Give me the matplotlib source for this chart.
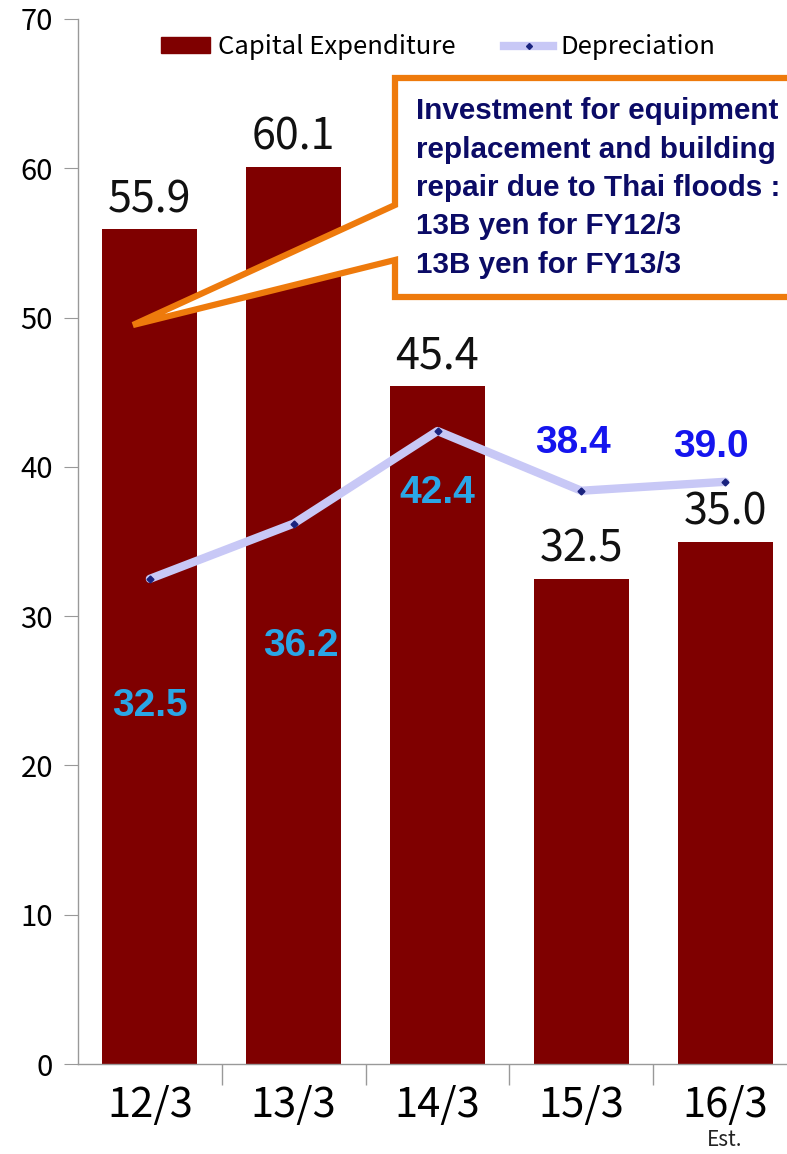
import matplotlib.pyplot as plt
from matplotlib.patches import Polygon
from matplotlib.lines import Line2D
from matplotlib.patches import Patch

plt.rcParams['font.family'] = ['Noto Sans CJK JP', 'DejaVu Sans']

# data
years = ['12/3', '13/3', '14/3', '15/3', '16/3']
capex = [55.9, 60.1, 45.4, 32.5, 35.0]
depreciation = [32.5, 36.2, 42.4, 38.4, 39.0]
dep_label_colors = ['#2aa6e6', '#2aa6e6', '#2aa6e6', '#1515ee', '#1515ee']
# label offsets (data units) for the depreciation values
dep_label_dy = [-8.5, -8.17, -4.17, 3.23, 2.36]
dep_label_dx = [0, 0.05, 0, -0.06, -0.1]

W, H = 787, 1154
fig = plt.figure(figsize=(W / 100, H / 100), dpi=100)

# axes placed in pixel terms; right edge runs past the figure (cropped chart)
left, right, top, bottom = 78, 797, 19, 1064
ax = fig.add_axes([left / W, 1 - bottom / H, (right - left) / W, (bottom - top) / H])

x = list(range(len(years)))
bar_color = '#7f0000'
ax.bar(x, capex, width=0.66, color=bar_color, zorder=2)
ax.plot(x, depreciation, color='#c8c8f6', lw=6, solid_capstyle='round', zorder=3)
ax.plot(x, depreciation, ls='none', marker='D', ms=3.5, color='#1a237e', zorder=4)

for xi, v in zip(x, capex):
    ax.text(xi, v + 0.5, '%.1f' % v, ha='center', va='bottom', fontsize=31, color='#111111')

for xi, v, c, dy, dx in zip(x, depreciation, dep_label_colors, dep_label_dy, dep_label_dx):
    ax.text(xi + dx, v + dy, '%.1f' % v, ha='center', va='center', fontsize=28,
            fontweight='bold', color=c, family=['Liberation Sans', 'DejaVu Sans'])

ax.set_xlim(-0.5, len(years) - 0.5)
ax.set_ylim(0, 70)
ax.set_yticks(range(0, 71, 10))
ax.set_xticks([i + 0.5 for i in range(len(years) - 1)], minor=False)
ax.set_xticklabels([])
ax.tick_params(axis='x', which='major', length=15, color='#999999', width=1)
ax.set_xticks(x, minor=True)
ax.set_xticklabels(years, minor=True, fontsize=30)
ax.tick_params(axis='x', which='minor', length=0, pad=15)
ax.tick_params(axis='y', length=10, color='#999999', labelsize=21, pad=8)
for s in ['top', 'right']:
    ax.spines[s].set_visible(False)
for s in ['left', 'bottom']:
    ax.spines[s].set_color('#999999')
    ax.spines[s].set_linewidth(1)

ax.text(4, -4.35, 'Est.', ha='center', va='top', fontsize=15, color='#222222')

# legend
handles = [Patch(color=bar_color),
           Line2D([], [], color='#c8c8f6', lw=6, marker='D', ms=3, mfc='#1a237e', mec='#1a237e')]
fig.legend(handles, ['Capital Expenditure', 'Depreciation'], ncol=2, frameon=False,
           loc='center left', bbox_to_anchor=(138 / W, 1 - 47 / H), fontsize=18.5,
           handlelength=1.9, handleheight=0.55, handletextpad=0.3, columnspacing=1.9)


# callout box (pixel coordinates from top-left)
def px(pts):
    return [(a / W, 1 - b / H) for a, b in pts]


callout = [(395, 78), (810, 78), (810, 297), (395, 297), (395, 260), (133, 325), (395, 205)]
fig.patches.append(Polygon(px(callout), closed=True, transform=fig.transFigure,
                           facecolor='white', edgecolor='#ee7a0c', lw=4.5,
                           joinstyle='miter', zorder=5))

note = ['Investment for equipment', 'replacement and building',
        'repair due to Thai floods :', '13B yen for FY12/3', '13B yen for FY13/3']
for i, line in enumerate(note):
    fig.text(416 / W, 1 - (111 + i * 38.5) / H, line, ha='left', va='center',
             fontsize=21.3, fontweight='bold', color='#0b0b66',
             family=['Liberation Sans', 'DejaVu Sans'], zorder=6)

fig.savefig('out.png', dpi=100)
